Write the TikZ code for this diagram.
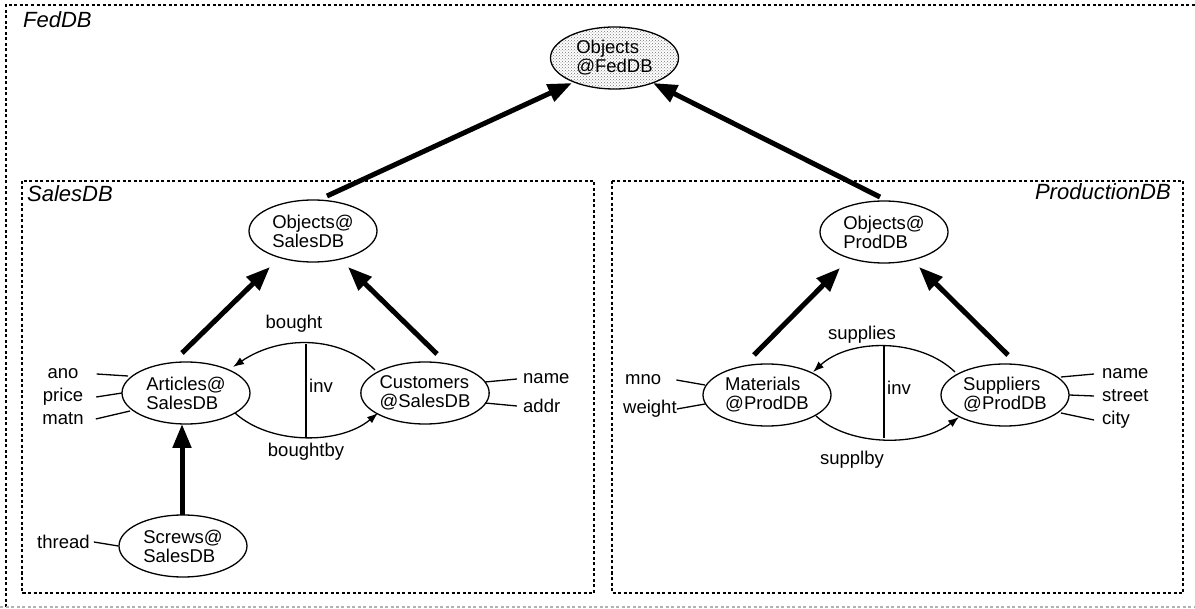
\documentclass[tikz,border=0pt]{standalone}
\usepackage{fontspec}
\setmainfont{Liberation Sans}
\usetikzlibrary{arrows.meta,patterns,shapes.geometric}
\begin{document}
\begin{tikzpicture}[x=1pt,y=-1pt,
  ent/.style={ellipse,draw,line width=1.3pt,minimum width=128pt,minimum height=62pt,inner sep=0pt,align=left,font=\fontsize{18.5}{19}\selectfont},
  lbl/.style={inner sep=0pt,font=\fontsize{18.5}{19}\selectfont},
  boxlbl/.style={inner sep=0pt,font=\fontsize{22}{24}\selectfont\itshape},
  isa/.style={line width=5pt,-{Triangle[length=24pt,width=18pt]}},
  rel/.style={line width=1.3pt,-{Latex[length=11pt,width=8pt]}},
  att/.style={line width=1.3pt},
  frame/.style={line width=1.2pt,dash pattern=on 3pt off 2.5pt}]
\useasboundingbox (0,0) rectangle (1195,609);

% frames
\draw[frame] (6,607) -- (6,5) -- (1195,5);
\draw[frame,gray!60] (0,607) -- (1195,607);
\draw[frame] (22,181) rectangle (594,593);
\draw[frame] (612,181) rectangle (1183,593);
\node[boxlbl,anchor=west] (lfed) at (23,19.5) {FedDB};
\node[boxlbl,anchor=west] (lsales) at (27,194) {SalesDB};
\node[boxlbl,anchor=east] (lprod) at (1171,192) {ProductionDB};

% entity nodes
\node[ent,preaction={fill=white},pattern=crosshatch dots,pattern color=black!55] (of) at (614.5,58) {Objects\\@FedDB};
\node[ent] (os) at (313,231) {Objects@\\SalesDB};
\node[ent] (op) at (884,232) {Objects@\\ProdDB};
\node[ent] (art) at (186,393) {Articles@\\SalesDB};
\node[ent,minimum width=124pt] (cu) at (425,393) {Customers\\@SalesDB};
\node[ent] (scr) at (183,546) {Screws@\\SalesDB};
\node[ent] (mat) at (767,395) {Materials\\@ProdDB};
\node[ent] (sup) at (1005,395) {Suppliers\\@ProdDB};

% is-a arrows
\draw[isa] ([shift={(14,-35)}]os.center) -- ([shift={(-42.5,25)}]of.center);
\draw[isa] ([shift={(-4,-35)}]op.center) -- ([shift={(38.5,25)}]of.center);
\draw[isa] ([shift={(-4,-40)}]art.center) -- ([shift={(-43,36)}]os.center);
\draw[isa] ([shift={(12,-39)}]cu.center) -- ([shift={(35,36)}]os.center);
\draw[isa] ([shift={(-13,-40)}]mat.center) -- ([shift={(-44,36)}]op.center);
\draw[isa] ([shift={(3,-40)}]sup.center) -- ([shift={(35,35)}]op.center);
\draw[isa] ([shift={(-1,-31)}]scr.center) -- ([shift={(-4,31)}]art.center);

% relationships (sales)
\draw[rel] ([shift={(-50,-23)}]cu.center) .. controls (340,335) and (280,335) .. ([shift={(47,-26)}]art.center);
\draw[rel] ([shift={(49,20)}]art.center) .. controls (270,445) and (340,445) .. ([shift={(-47,20)}]cu.center);
\coordinate (invsa) at (306,344);
\coordinate (invsb) at (306,437);
\draw[att] (invsa) -- (invsb);
\node[lbl] (tbought) at (294,324) {bought};
\node[lbl] (tboughtby) at (306,452) {boughtby};
\node[lbl,anchor=west] (tinv1) at (309,386) {inv};

% relationships (production)
\draw[rel] ([shift={(-50,-23)}]sup.center) .. controls (920,338) and (850,338) .. ([shift={(46,-23)}]mat.center);
\draw[rel] ([shift={(49,21)}]mat.center) .. controls (850,447) and (920,447) .. ([shift={(-46,22)}]sup.center);
\coordinate (invpa) at (884,346);
\coordinate (invpb) at (884,438);
\draw[att] (invpa) -- (invpb);
\node[lbl] (tsupplies) at (862,335) {supplies};
\node[lbl] (tsupplby) at (852,460) {supplby};
\node[lbl,anchor=west] (tinv2) at (887,388) {inv};

% attributes
\node[lbl] (ano) at (63,374) {ano};
\node[lbl] (price) at (63,397) {price};
\node[lbl] (matn) at (63,419) {matn};
\draw[att] ([xshift=18pt]ano.east) -- ([shift={(-58,-17)}]art.center);
\draw[att] ([xshift=13pt]price.east) -- ([shift={(-64,0)}]art.center);
\draw[att] ([xshift=12pt]matn.east) -- ([shift={(-56,18)}]art.center);

\node[lbl,anchor=west] (cname) at (523,379) {name};
\node[lbl,anchor=west] (caddr) at (523,406) {addr};
\draw[att] ([shift={(60,-11)}]cu.center) -- ([xshift=-6pt]cname.west);
\draw[att] ([shift={(60,10)}]cu.center) -- ([xshift=-6pt]caddr.west);

\node[lbl,anchor=west] (thread) at (37,542) {thread};
\draw[att] ([xshift=4pt]thread.east) -- (scr.west);

\node[lbl,anchor=west] (mno) at (625,380) {mno};
\node[lbl,anchor=west] (weight) at (623,409) {weight};
\draw[att] ([xshift=15pt]mno.east) -- ([shift={(-62,-10)}]mat.center);
\draw[att] (weight.east) -- ([shift={(-62,9)}]mat.center);

\node[lbl,anchor=west] (sname) at (1102,374) {name};
\node[lbl,anchor=west] (sstreet) at (1102,396) {street};
\node[lbl,anchor=west] (scity) at (1102,420) {city};
\draw[att] ([shift={(56,-18)}]sup.center) -- ([xshift=-8pt]sname.west);
\draw[att] ([shift={(64,0)}]sup.center) -- ([xshift=-8pt]sstreet.west);
\draw[att] ([shift={(56,18)}]sup.center) -- ([xshift=-8pt]scity.west);
\end{tikzpicture}
\end{document}
